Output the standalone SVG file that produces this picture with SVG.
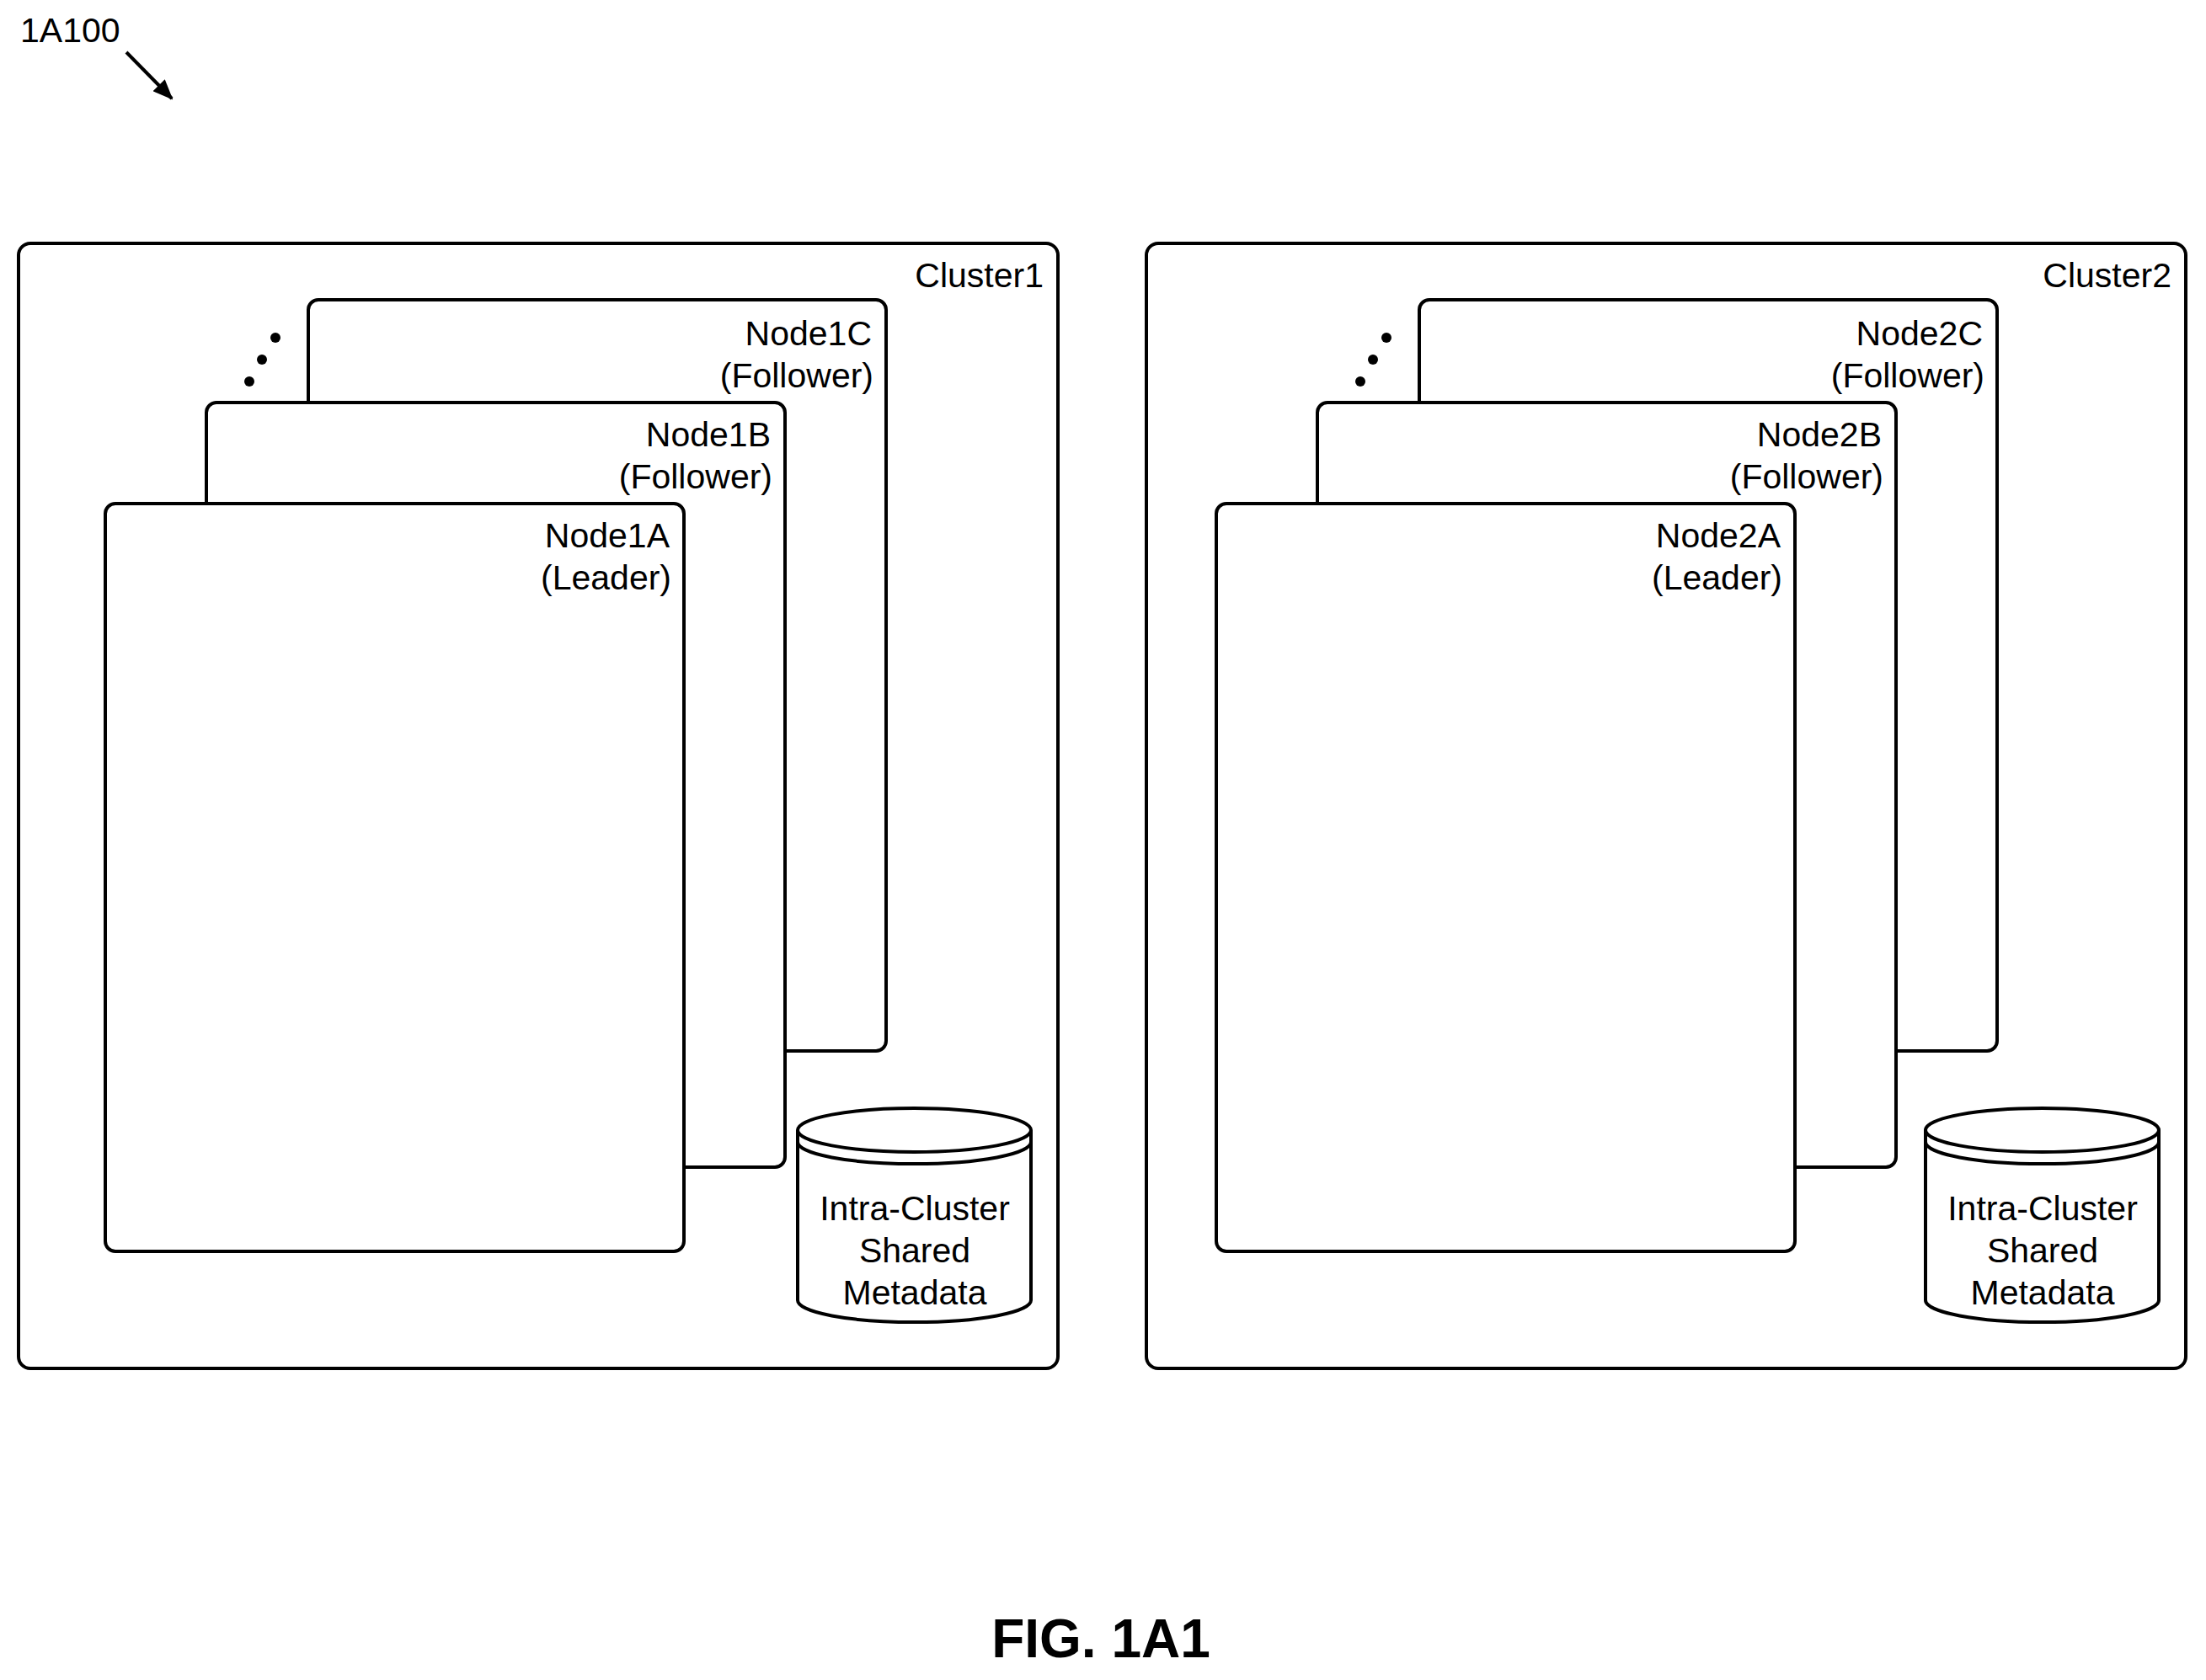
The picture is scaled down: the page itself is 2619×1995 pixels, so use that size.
<svg xmlns="http://www.w3.org/2000/svg" width="2619" height="1995" viewBox="0 0 2619 1995">
<style>
.b{fill:#fff;stroke:#000;stroke-width:4}
.t{font-family:"Liberation Sans",Arial,sans-serif;font-size:41px;fill:#000}
.r{text-anchor:end}
.c{text-anchor:middle}
</style>
<defs>
<marker id="ah" markerWidth="24" markerHeight="20" refX="22" refY="10" orient="auto" markerUnits="userSpaceOnUse" viewBox="0 0 24 20"><path d="M0,0 L24,10 L0,20 z" fill="#000"/></marker>
<g id="frame">
<rect class="b" x="22" y="289" width="1234" height="1336" rx="14"/>
<path class="b" d="M947,1342 L947,1544 A138,26 0 0 0 1224,1544 L1224,1342"/>
<ellipse class="b" cx="1085.5" cy="1342" rx="138.5" ry="26"/>
<path d="M947,1356 A138,26 0 0 0 1224,1356" fill="none" stroke="#000" stroke-width="4"/>
<text class="t c" x="1086" y="1449">Intra-Cluster</text><text class="t c" x="1086" y="1499">Shared</text><text class="t c" x="1086" y="1549">Metadata</text>
</g>
<g id="stack">
<rect class="b" x="366" y="356" width="686" height="892" rx="12"/>
<rect class="b" x="245" y="478" width="687" height="908" rx="12"/>
<rect class="b" x="125" y="598" width="687" height="888" rx="12"/>
<circle cx="327" cy="401" r="6"/><circle cx="311" cy="427" r="6"/><circle cx="296" cy="453" r="6"/>
</g>
</defs>
<g id="cluster1">
<use href="#frame"/>
<text class="t r" x="1239" y="341">Cluster1</text>
<g id="nodes1"><use href="#stack"/>
<text class="t r" x="1035" y="410">Node1C</text><text class="t r" x="1037" y="460">(Follower)</text>
<text class="t r" x="915" y="530">Node1B</text><text class="t r" x="917" y="580">(Follower)</text>
<text class="t r" x="795" y="650">Node1A</text><text class="t r" x="797" y="700">(Leader)</text></g>
</g>
<g id="cluster2" transform="translate(1339,0)">
<use href="#frame"/>
<text class="t r" x="1239" y="341">Cluster2</text>
<g id="nodes2" transform="translate(-20,0)"><use href="#stack"/>
<text class="t r" x="1035" y="410">Node2C</text><text class="t r" x="1037" y="460">(Follower)</text>
<text class="t r" x="915" y="530">Node2B</text><text class="t r" x="917" y="580">(Follower)</text>
<text class="t r" x="795" y="650">Node2A</text><text class="t r" x="797" y="700">(Leader)</text></g>
</g>
<g id="connectors">
<line x1="150" y1="62" x2="204" y2="117" stroke="#000" stroke-width="4" marker-end="url(#ah)"/>
</g>
<text class="t" x="24" y="50">1A100</text>
<text class="t c" x="1307" y="1968" style="font-size:64px;font-weight:bold">FIG. 1A1</text>
</svg>
